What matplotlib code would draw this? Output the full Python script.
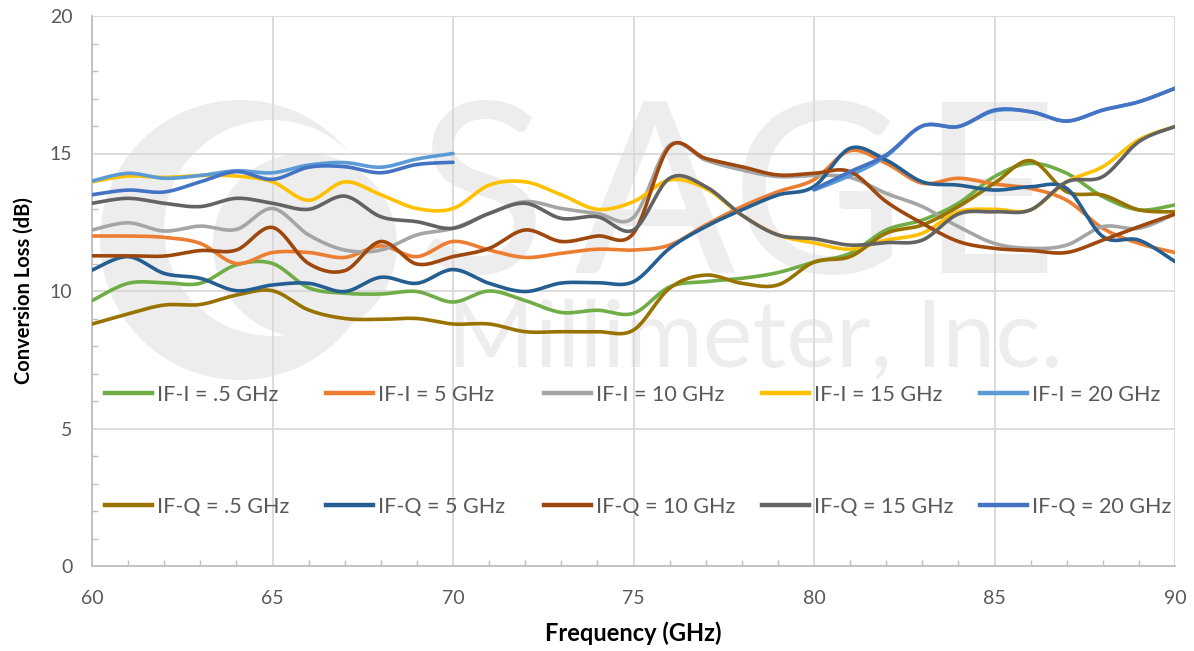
import numpy as np
import matplotlib
matplotlib.use("Agg")
import matplotlib.pyplot as plt
from matplotlib.patches import Ellipse
from matplotlib.legend import Legend

# frequency points (GHz)
freq = np.arange(60, 91)
nan = np.nan

# IF-I series (dB)
ifi_05 = [9.65, 10.28, 10.3, 10.28, 10.95, 11.0, 10.12, 9.92, 9.89, 9.98, 9.6,
          10.0, 9.65, 9.22, 9.3, 9.19, 10.15, 10.34, 10.46, 10.67, 11.05,
          11.37, 12.22, 12.58, 13.19, 14.16, 14.64, 14.28, 13.43, 12.95, 13.13]
ifi_5 = [12.0, 12.0, 11.95, 11.73, 11.0, 11.4, 11.4, 11.22, 11.64, 11.25, 11.8,
         11.49, 11.22, 11.37, 11.52, 11.49, 11.67, 12.4, 13.07, 13.61, 14.05,
         15.1, 14.64, 13.92, 14.1, 13.89, 13.73, 13.3, 12.28, 11.73, 11.4]
ifi_10 = [12.22, 12.48, 12.18, 12.36, 12.24, 13.0, 12.04, 11.49, 11.49, 12.04, 12.28,
          12.82, 13.25, 13.0, 12.82, 12.68, 15.3, 14.76, 14.4, 14.16, 14.2,
          14.13, 13.55, 13.07, 12.34, 11.73, 11.55, 11.67, 12.34, 12.28, 12.8]
ifi_15 = [13.97, 14.18, 14.13, 14.2, 14.18, 13.97, 13.3, 13.97, 13.5, 13.0, 13.0,
          13.85, 13.97, 13.5, 12.97, 13.25, 14.04, 13.73, 12.76, 12.04, 11.75,
          11.52, 11.85, 12.1, 12.88, 12.97, 12.95, 13.97, 14.52, 15.5, 15.98]
ifi_20 = [14.0, 14.28, 14.1, 14.2, 14.37, 14.3, 14.58, 14.67, 14.5, 14.8, 15.0,
          nan, nan, nan, nan, nan, nan, nan, nan, nan, 13.67,
          14.2, 14.9, 16.0, 15.98, 16.55, 16.52, 16.18, 16.58, 16.88, 17.37]

# IF-Q series (dB)
ifq_05 = [8.8, 9.17, 9.49, 9.51, 9.85, 10.01, 9.31, 9.0, 8.97, 9.0, 8.8,
          8.8, 8.52, 8.52, 8.52, 8.58, 10.1, 10.58, 10.28, 10.22, 11.05,
          11.25, 12.1, 12.4, 13.07, 13.92, 14.74, 13.61, 13.49, 12.95, 12.88]
ifq_5 = [10.76, 11.25, 10.64, 10.46, 10.01, 10.22, 10.28, 9.98, 10.5, 10.28, 10.78,
         10.28, 9.98, 10.29, 10.3, 10.34, 11.55, 12.34, 12.95, 13.49, 13.8,
         15.19, 14.76, 13.97, 13.85, 13.67, 13.79, 13.73, 11.98, 11.85, 11.07]
ifq_10 = [11.28, 11.28, 11.27, 11.47, 11.49, 12.31, 11.0, 10.74, 11.8, 10.98, 11.25,
          11.55, 12.22, 11.8, 12.0, 12.1, 15.25, 14.82, 14.52, 14.22, 14.28,
          14.34, 13.25, 12.46, 11.8, 11.55, 11.47, 11.4, 11.85, 12.34, 12.8]
ifq_15 = [13.19, 13.37, 13.19, 13.07, 13.37, 13.19, 12.97, 13.45, 12.7, 12.52, 12.28,
          12.82, 13.19, 12.64, 12.7, 12.22, 14.1, 13.8, 12.76, 12.04, 11.9,
          11.67, 11.76, 11.85, 12.8, 12.88, 12.95, 13.97, 14.16, 15.43, 15.98]
ifq_20 = [13.5, 13.67, 13.6, 13.97, 14.34, 14.06, 14.5, 14.52, 14.3, 14.6, 14.68,
          nan, nan, nan, nan, nan, nan, nan, nan, nan, 13.7,
          14.34, 14.95, 16.0, 15.98, 16.58, 16.52, 16.18, 16.58, 16.88, 17.37]

labels = ["IF-I = .5 GHz", "IF-I = 5 GHz", "IF-I = 10 GHz", "IF-I = 15 GHz", "IF-I = 20 GHz",
          "IF-Q = .5 GHz", "IF-Q = 5 GHz", "IF-Q = 10 GHz", "IF-Q = 15 GHz", "IF-Q = 20 GHz"]
series = [ifi_05, ifi_5, ifi_10, ifi_15, ifi_20, ifq_05, ifq_5, ifq_10, ifq_15, ifq_20]
colors = ["#70AD47", "#ED7D31", "#A5A5A5", "#FFC000", "#5B9BD5",
          "#997300", "#255E91", "#9E480E", "#636363", "#4472C4"]


def smooth(x, y, n=24):
    # excel style smoothed line (bezier through points, 1/6 tangents)
    x = np.asarray(x, float)
    y = np.asarray(y, float)
    xs, ys = [], []
    idx = np.where(~np.isnan(y))[0]
    runs = np.split(idx, np.where(np.diff(idx) > 1)[0] + 1)
    t = np.linspace(0, 1, n)[:, None]
    for r in runs:
        px, py = x[r], y[r]
        m = len(px)
        for i in range(m - 1):
            p0 = np.array([px[i], py[i]])
            p3 = np.array([px[i + 1], py[i + 1]])
            pm = np.array([px[max(i - 1, 0)], py[max(i - 1, 0)]])
            pp = np.array([px[min(i + 2, m - 1)], py[min(i + 2, m - 1)]])
            c1 = p0 + (p3 - pm) / 6
            c2 = p3 - (pp - p0) / 6
            b = ((1 - t) ** 3) * p0 + 3 * ((1 - t) ** 2) * t * c1 + 3 * (1 - t) * t ** 2 * c2 + t ** 3 * p3
            xs.extend(b[:, 0])
            ys.extend(b[:, 1])
        xs.append(nan)
        ys.append(nan)
    return np.array(xs), np.array(ys)


plt.rcParams['font.family'] = ['Lato', 'DejaVu Sans']

fig = plt.figure(figsize=(11.94, 6.51), dpi=100)
ax = fig.add_axes([92 / 1194, 85 / 651, 1083 / 1194, 550 / 651])


# watermark (logo + company name), pixel -> data helpers
def dx(px):
    return 60 + (px - 92) / 36.1


def dy(py):
    return (566 - py) / 27.5


wm = "#EDEDED"
for cx, cy, r, c in [(240, 240, 140, wm), (272, 228, 108, "white"), (305, 245, 92, wm)]:
    ax.add_patch(Ellipse((dx(cx), dy(cy)), 2 * r / 36.1, 2 * r / 27.5,
                         facecolor=c, edgecolor="none", zorder=0.1))
for ch, cx in zip("SAGE", [481, 654, 818, 988]):
    ax.text(dx(cx), dy(273), ch, fontsize=172, color=wm, ha="center", va="baseline",
            zorder=0.2, family=["Liberation Sans Narrow", "Lato"])
ax.text(dx(755), dy(366), "Millimeter, Inc.", fontsize=68, color=wm, ha="center",
        va="baseline", zorder=0.2, family=["Liberation Sans Narrow", "Lato"])

handles = []
for vals, lab, col in zip(series, labels, colors):
    sx, sy = smooth(freq, vals)
    ax.plot(sx, sy, color=col, lw=2.6, solid_capstyle="round", zorder=3)
    h, = ax.plot([], [], color=col, lw=3.2, label=lab)
    handles.append(h)

ax.set_xlim(60, 90)
ax.set_ylim(0, 20)
ax.set_xticks(np.arange(60, 91, 5))
ax.set_yticks(np.arange(0, 21, 5))
ax.set_xticks(np.arange(60, 91, 1), minor=True)
ax.set_yticks(np.arange(0, 21, 1), minor=True)
ax.grid(True, which="major", color="#D9D9D9", lw=1.3)
ax.set_axisbelow(True)
for s in ["top", "right"]:
    ax.spines[s].set_visible(False)
for s in ["left", "bottom"]:
    ax.spines[s].set_color("#BFBFBF")
    ax.spines[s].set_linewidth(1.3)
ax.tick_params(which="major", length=0, labelsize=14, labelcolor="#595959")
ax.tick_params(axis="y", pad=14)
ax.tick_params(axis="x", pad=17)
ax.tick_params(which="minor", direction="in", length=4, color="#BFBFBF", width=1)

ax.set_xlabel("Frequency (GHz)", fontsize=17, fontweight="bold", labelpad=11)
ax.set_ylabel("Conversion Loss (dB)", fontsize=14.5, fontweight="bold", labelpad=12)

# legend entries at fixed spots, two rows of five
leg_x = [105, 326, 544, 762, 980]
leg_y = [395, 507]
for k, h in enumerate(handles):
    px = leg_x[k % 5]
    py = leg_y[k // 5]
    lg = Legend(ax, [h], [labels[k]], loc="center left", frameon=False, fontsize=15.5,
                handlelength=2.2, handletextpad=0.2, labelcolor="#595959",
                borderaxespad=0, borderpad=0,
                bbox_to_anchor=((px - 92) / 1083, (566 - py) / 550))
    ax.add_artist(lg)

fig.savefig("out.png", dpi=100)
